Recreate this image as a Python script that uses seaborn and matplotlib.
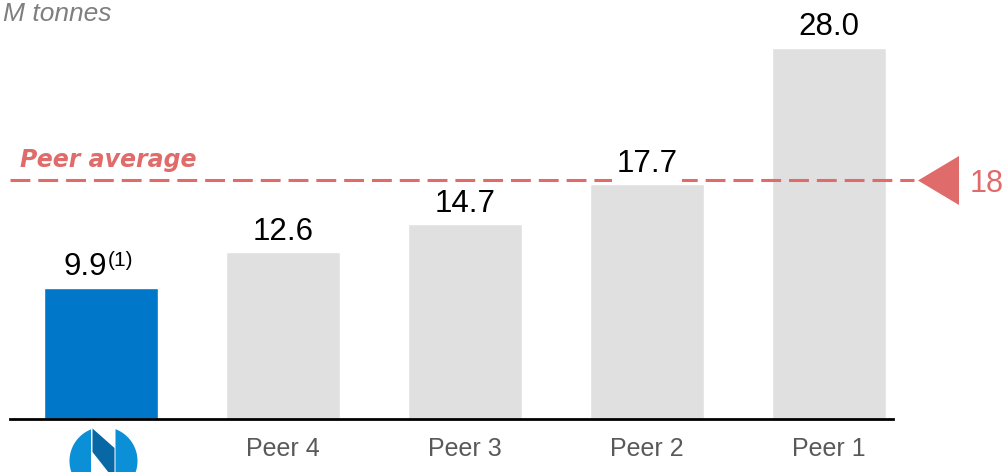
import matplotlib
matplotlib.use("Agg")
import numpy as np
import pandas as pd
import seaborn as sns
import matplotlib.pyplot as plt
from matplotlib.patches import Polygon
from matplotlib.path import Path

# ---- data -------------------------------------------------------------
companies = ["Nornickel", "Peer 4", "Peer 3", "Peer 2", "Peer 1"]
tick_labels = ["", "Peer 4", "Peer 3", "Peer 2", "Peer 1"]
emissions = [9.9, 12.6, 14.7, 17.7, 28.0]
value_labels = ["9.9", "12.6", "14.7", "17.7", "28.0"]
footnote = "(1)"
peer_average = 18
peer_average_label = "18"
avg_label = "Peer average"
unit_label = "M tonnes"

# ---- styling ----------------------------------------------------------
BLUE = "#0077C8"
GREY = "#E0E0E0"
RED = "#E06B6B"
LOGO_LIGHT = "#0B8FD6"
LOGO_DARK = "#0868A6"
bar_colors = [BLUE, GREY, GREY, GREY, GREY]

sns.set_theme(style="white")
plt.rcParams["font.family"] = ["Liberation Sans", "DejaVu Sans"]

W, H = 1007, 472
fig = plt.figure(figsize=(W / 100, H / 100), dpi=100)
ax = fig.add_axes([10 / W, 53 / H, 883 / W, 397.5 / H])

df = pd.DataFrame({"company": companies, "value": emissions})
sns.barplot(data=df, x="company", y="value", hue="company", palette=bar_colors,
            width=0.626, saturation=1, legend=False, ax=ax, zorder=2)

ax.set_xlim(-0.5, 4.352)
ax.set_ylim(0, 30)
for side in ("left", "top", "right"):
    ax.spines[side].set_visible(False)
ax.spines["bottom"].set_color("black")
ax.spines["bottom"].set_linewidth(2)
ax.set_yticks([])
ax.set_xticks(range(len(companies)), tick_labels, fontsize=18, color="#595959")
ax.tick_params(axis="x", length=0, pad=13)
ax.set_xlabel("")
ax.set_ylabel("")

# value labels above the bars
for i, (v, lab) in enumerate(zip(emissions, value_labels)):
    if i == 0:
        ax.annotate(lab, (i, v), xytext=(4.5, 9), textcoords="offset points",
                    ha="right", va="baseline", fontsize=22.5, color="black")
        ax.annotate(footnote, (i, v), xytext=(5, 16), textcoords="offset points",
                    ha="left", va="baseline", fontsize=15, color="black")
    else:
        ax.annotate(lab, (i, v), xytext=(0, 9), textcoords="offset points",
                    ha="center", va="baseline", fontsize=22.5, color="black",
                    bbox=dict(boxstyle="square,pad=0.15", fc="white", ec="none"),
                    zorder=4)

# peer average reference line with marker and label
ax.plot([-0.5, 4.47], [peer_average, peer_average], color=RED, lw=2.2,
        ls=(0, (6.5, 2.6)), clip_on=False, zorder=3, solid_capstyle="butt",
        dash_capstyle="butt")
tri = Path([(-20.5, 0), (20.5, -24.5), (20.5, 24.5), (-20.5, 0)],
           [Path.MOVETO, Path.LINETO, Path.LINETO, Path.CLOSEPOLY])
ax.plot([4.602], [peer_average], marker=tri, ms=35.3, color=RED, mew=0,
        clip_on=False, zorder=3, ls="none")
ax.text(4.775, peer_average, peer_average_label, color=RED, fontsize=22,
        ha="left", va="center_baseline", clip_on=False)
ax.annotate(avg_label, (-0.5, peer_average), xytext=(7, 10),
            textcoords="offset points", ha="left", va="baseline",
            fontsize=17, color=RED, fontstyle="italic", fontweight="bold",
            family="DejaVu Sans")

# unit caption
fig.text(3 / W, 1 - 21 / H, unit_label, fontsize=19, color="#7F7F7F",
         style="italic", ha="left", va="baseline")

# company logo under the first bar (drawn in pixel coordinates)
lx0, lx1, ly0, ly1 = 60, 150, 420, 472
lax = fig.add_axes([lx0 / W, 0, (lx1 - lx0) / W, (ly1 - ly0) / H])
lax.set_xlim(lx0, lx1)
lax.set_ylim(ly1, ly0)
lax.axis("off")
cx, cy, r = 103.5, 461, 34
a_left = np.arccos((91 - cx) / r)
t = np.linspace(a_left, 2 * np.pi - a_left, 80)
lax.add_patch(Polygon(np.c_[cx + r * np.cos(t), cy + r * np.sin(t)],
                      closed=True, fc=LOGO_LIGHT, ec="none"))
a_right = np.arccos((115.5 - cx) / r)
t = np.linspace(-a_right, a_right, 80)
lax.add_patch(Polygon(np.c_[cx + r * np.cos(t), cy + r * np.sin(t)],
                      closed=True, fc=LOGO_LIGHT, ec="none"))
lax.add_patch(Polygon([(92.5, 428.5), (114.5, 448), (114.5, 480), (92.5, 452)],
                      closed=True, fc=LOGO_DARK, ec="none"))

fig.savefig("out.png", dpi=100)
